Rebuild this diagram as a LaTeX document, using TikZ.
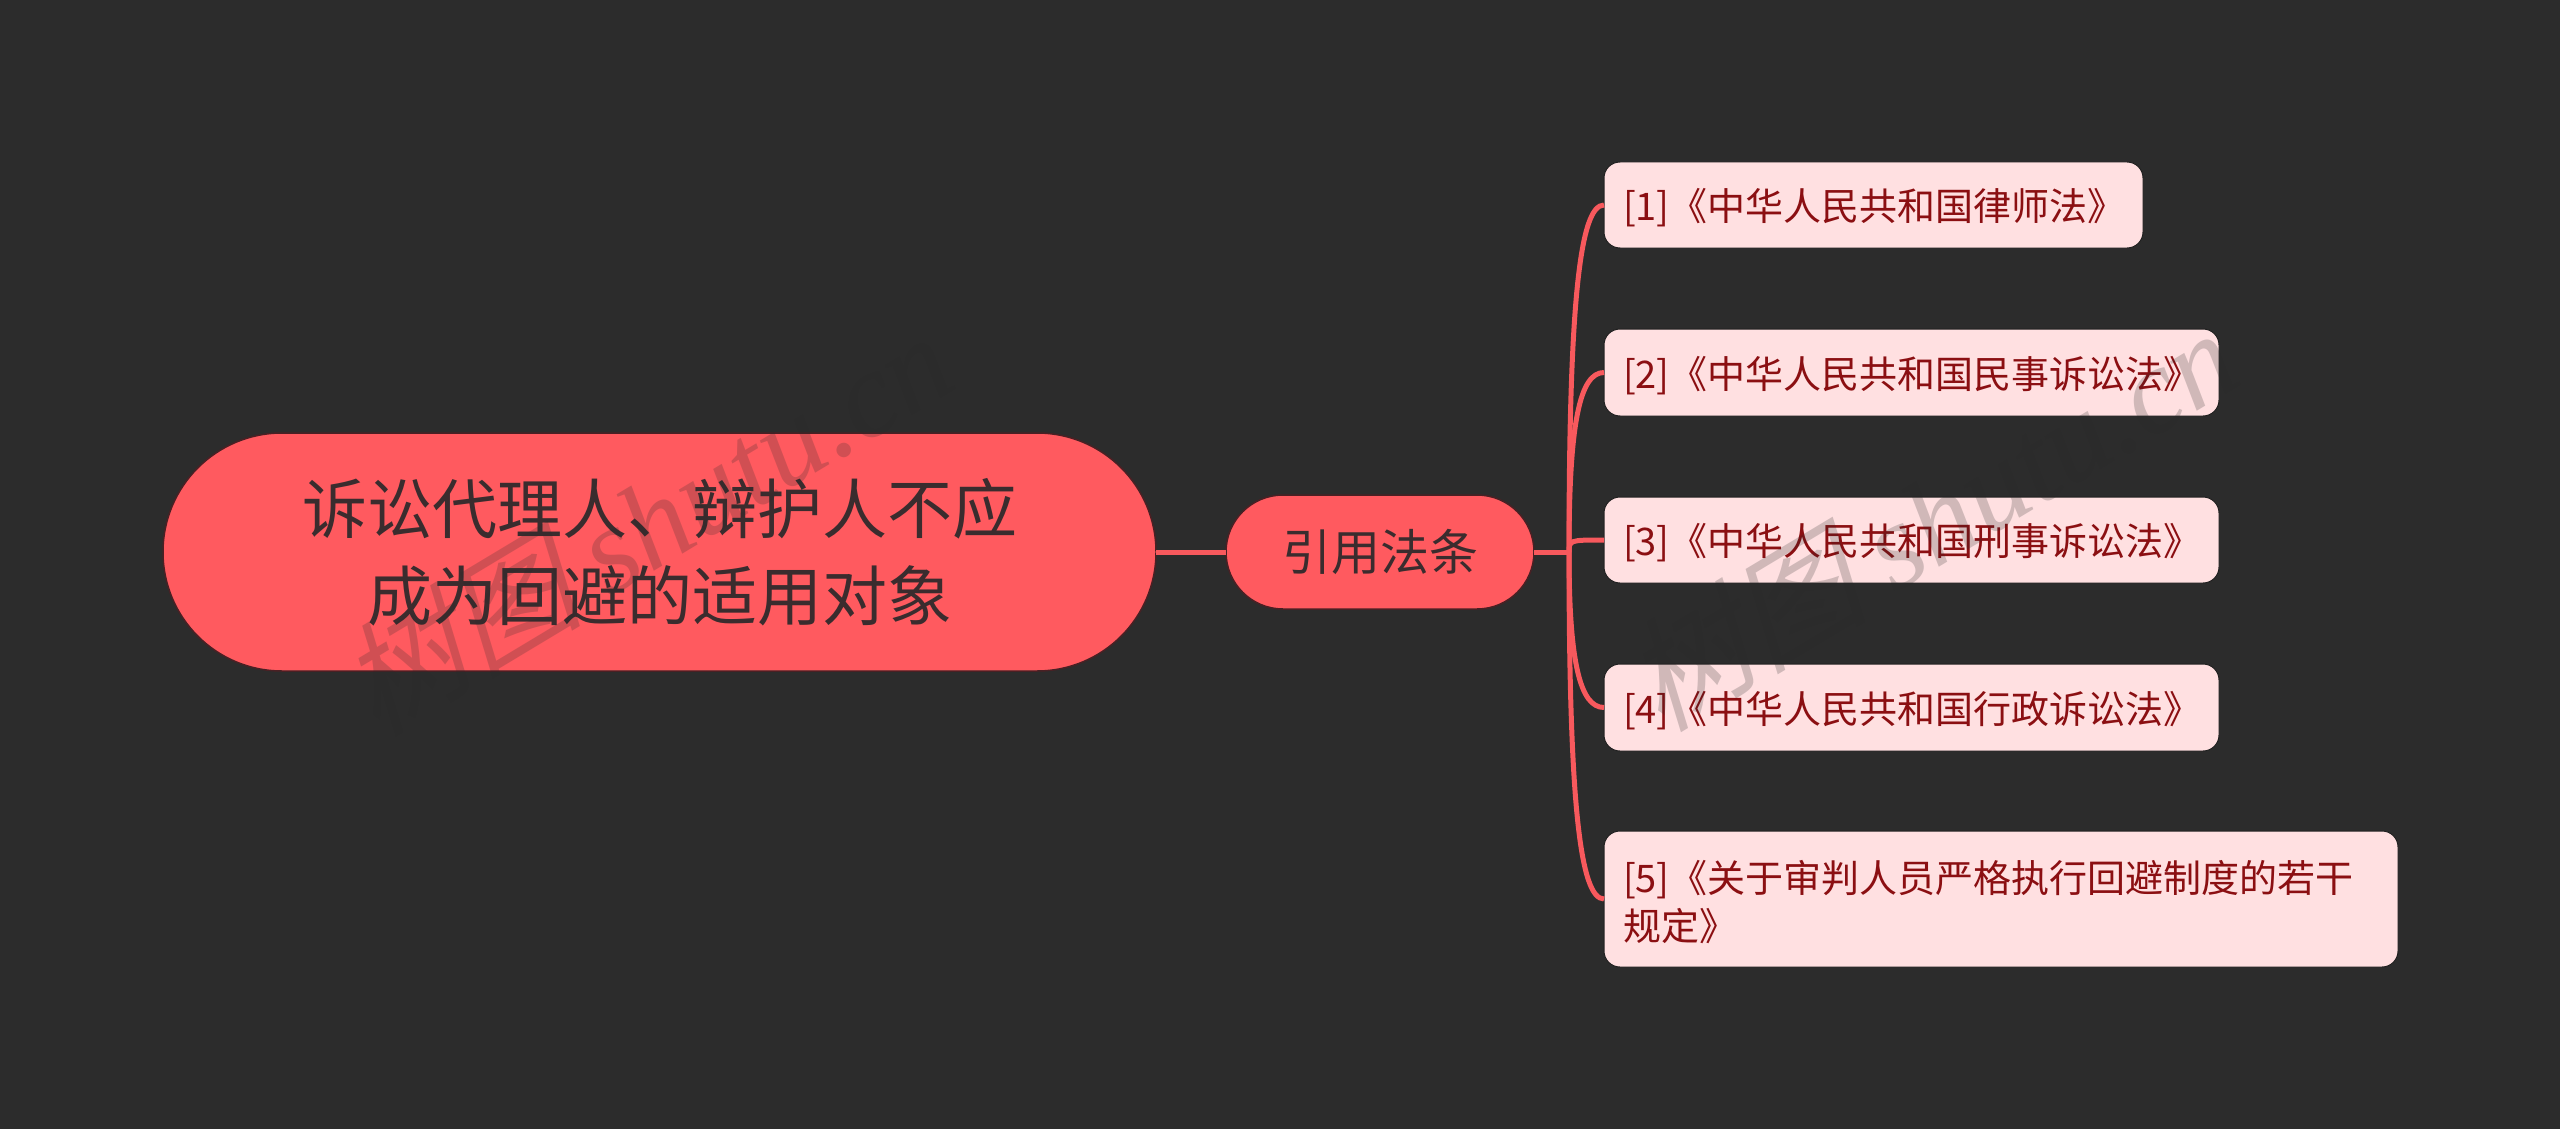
\documentclass[tikz,border=0pt]{standalone}
\usepackage{fontspec}
\setmainfont{Noto Sans CJK SC}
\newfontfamily\wmcjk[FakeSlant=0.25]{Noto Sans CJK SC}
\newfontfamily\wmlat{Liberation Serif}[ItalicFont=* Italic]
\usetikzlibrary{calc}
\definecolor{bgc}{HTML}{2C2C2C}
\definecolor{rootc}{HTML}{FF5A5F}
\definecolor{leafc}{HTML}{FFE0E1}
\definecolor{leaft}{HTML}{8B0F12}
\definecolor{darkt}{HTML}{3A2C2E}
\definecolor{linec}{HTML}{F8595D}
\definecolor{edgec}{HTML}{4A2024}
\definecolor{wmc}{HTML}{2A2A2A}
\newcommand\leafline[1]{\raisebox{-3pt}[\height][\depth]{\hspace*{-3pt}#1}}
\tikzset{
  x=1pt,y=-1pt,
  rootbox/.style={draw=edgec,line width=1.5pt,fill=rootc,rounded corners=119pt,outer sep=0pt,inner sep=0pt,
    minimum width=993pt,minimum height=238pt,align=center,text=darkt,font=\fontsize{65}{87}\selectfont},
  midbox/.style={draw=edgec,line width=1.5pt,fill=rootc,rounded corners=57pt,outer sep=0pt,inner sep=0pt,
    minimum width=308pt,minimum height=114pt,align=center,text=darkt,font=\fontsize{49}{60}\selectfont},
  leafbox/.style={draw=bgc!70!black,line width=1pt,fill=leafc,rounded corners=16pt,outer sep=0pt,inner sep=0pt,
    align=left,text=leaft,font=\fontsize{38}{48}\selectfont},
  link/.style={draw=linec,line width=5pt},
  wm/.style={text=wmc,opacity=.22,rotate=31,font=\fontsize{122}{122}\selectfont}
}
\begin{document}
\begin{tikzpicture}
\fill[bgc] (0,0) rectangle (2560,1129);
\useasboundingbox (0,0) rectangle (2560,1129);
\node[rootbox] (root) at (659.5,552) {诉讼代理人、辩护人不应\\成为回避的适用对象};
\node[midbox] (mid) at (1380,552) {引用法条};
\node[leafbox,minimum width=539pt,minimum height=86pt,text width=495pt] (n1) at (1873.5,205) {\leafline{[1]《中华人民共和国律师法》}};
\node[leafbox,minimum width=615pt,minimum height=87pt,text width=571pt] (n2) at (1911.5,372.5) {\leafline{[2]《中华人民共和国民事诉讼法》}};
\node[leafbox,minimum width=615pt,minimum height=86pt,text width=571pt] (n3) at (1911.5,540) {\leafline{[3]《中华人民共和国刑事诉讼法》}};
\node[leafbox,minimum width=615pt,minimum height=87pt,text width=571pt] (n4) at (1911.5,707.5) {\leafline{[4]《中华人民共和国行政诉讼法》}};
\node[leafbox,minimum width=794pt,minimum height=136pt,text width=750pt] (n5) at (2001,899) {\leafline{[5]《关于审判人员严格执行回避制度的若干}\\\leafline{规定》}};
\coordinate (trunk) at (1569,552);
\draw[link] (root.east) -- (mid.west);
\draw[link] (mid.east) -- (trunk);
\draw[link] (trunk) .. controls ($(trunk)+(0,-250)$) and ($(n1.west)+(-24,0)$) .. (n1.west);
\draw[link] (trunk) .. controls ($(trunk)+(0,-130)$) and ($(n2.west)+(-24,0)$) .. (n2.west);
\draw[link] (trunk) .. controls ($(trunk)+(0,-12)$) and ($(n3.west)+(-34,0)$) .. (n3.west);
\draw[link] (trunk) .. controls ($(trunk)+(0,110)$) and ($(n4.west)+(-24,0)$) .. (n4.west);
\draw[link] (trunk) .. controls ($(trunk)+(0,250)$) and ($(n5.west)+(-24,0)$) .. (n5.west);
\node[wm] (w1) at (645,522) {{\wmcjk 树图} {\wmlat\itshape shutu.cn}};
\node[wm] (w2) at (1930,518) {{\wmcjk 树图} {\wmlat\itshape shutu.cn}};
\end{tikzpicture}
\end{document}
